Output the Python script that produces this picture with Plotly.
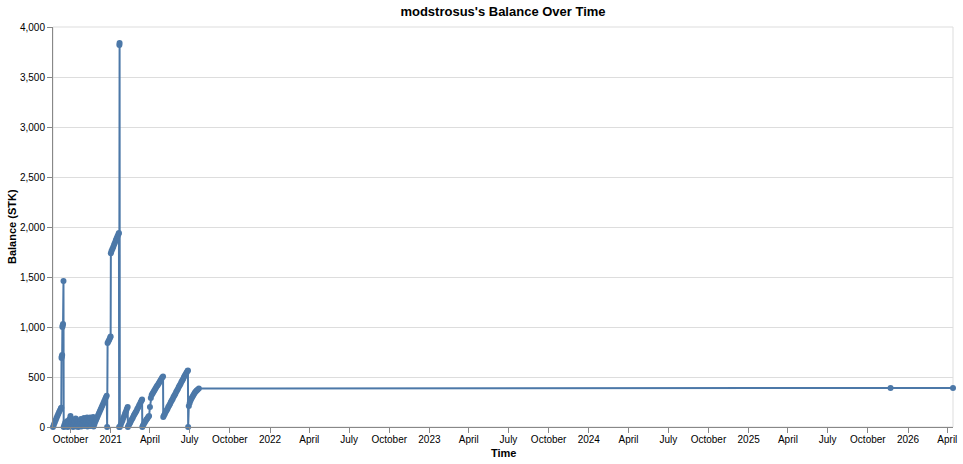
import plotly.graph_objects as go

# ---- data ----
dates = [
    "2020-08-22", "2020-08-24", "2020-08-26", "2020-08-28", "2020-08-30",
    "2020-09-01", "2020-09-03", "2020-09-05", "2020-09-07", "2020-09-09",
    "2020-09-10", "2020-09-10 12:00", "2020-09-11", "2020-09-12",
    "2020-09-12 12:00", "2020-09-13", "2020-09-14", "2020-09-15",
    "2020-09-15 12:00",
    "2020-09-17", "2020-09-19", "2020-09-20", "2020-09-22", "2020-09-24",
    "2020-09-25", "2020-09-27", "2020-09-29", "2020-10-01", "2020-10-02",
    "2020-10-04", "2020-10-06", "2020-10-07", "2020-10-09", "2020-10-11",
    "2020-10-13", "2020-10-14", "2020-10-16", "2020-10-18", "2020-10-19",
    "2020-10-21", "2020-10-23", "2020-10-25", "2020-10-26", "2020-10-28",
    "2020-10-30", "2020-11-01", "2020-11-02", "2020-11-04", "2020-11-06",
    "2020-11-08", "2020-11-09", "2020-11-11", "2020-11-13", "2020-11-15",
    "2020-11-16", "2020-11-18", "2020-11-20", "2020-11-22", "2020-11-23",
    "2020-11-25",
    "2020-11-27", "2020-11-29", "2020-12-01", "2020-12-03", "2020-12-05",
    "2020-12-07", "2020-12-09", "2020-12-11", "2020-12-13", "2020-12-15",
    "2020-12-17", "2020-12-19", "2020-12-21", "2020-12-23", "2020-12-24",
    "2020-12-25", "2020-12-27", "2020-12-29", "2020-12-31", "2021-01-01",
    "2021-01-01 12:00", "2021-01-03", "2021-01-05", "2021-01-07",
    "2021-01-09", "2021-01-11", "2021-01-13", "2021-01-15", "2021-01-17",
    "2021-01-19", "2021-01-20", "2021-01-20 12:00", "2021-01-21",
    "2021-01-21 12:00", "2021-01-22",
    "2021-01-24", "2021-01-26", "2021-01-28", "2021-01-30", "2021-02-01",
    "2021-02-03", "2021-02-05", "2021-02-07", "2021-02-09",
    "2021-02-09 12:00",
    "2021-02-11", "2021-02-13", "2021-02-15", "2021-02-17", "2021-02-19",
    "2021-02-21", "2021-02-23", "2021-02-25", "2021-02-27", "2021-03-01",
    "2021-03-03", "2021-03-05", "2021-03-07", "2021-03-09", "2021-03-11",
    "2021-03-13", "2021-03-14", "2021-03-14 12:00",
    "2021-03-16", "2021-03-18", "2021-03-20", "2021-03-22", "2021-03-24",
    "2021-03-26", "2021-03-28", "2021-03-30", "2021-04-01", "2021-04-03",
    "2021-04-05", "2021-04-07", "2021-04-09", "2021-04-11", "2021-04-13",
    "2021-04-15", "2021-04-17", "2021-04-19", "2021-04-21", "2021-04-23",
    "2021-04-25", "2021-04-27", "2021-04-29", "2021-05-01",
    "2021-05-01 12:00",
    "2021-05-03", "2021-05-05", "2021-05-07", "2021-05-09", "2021-05-11",
    "2021-05-13", "2021-05-15", "2021-05-17", "2021-05-19", "2021-05-21",
    "2021-05-23", "2021-05-25", "2021-05-27", "2021-05-29", "2021-05-31",
    "2021-06-02", "2021-06-04", "2021-06-06", "2021-06-08", "2021-06-10",
    "2021-06-12", "2021-06-14", "2021-06-16", "2021-06-18", "2021-06-20",
    "2021-06-22", "2021-06-24", "2021-06-26", "2021-06-27",
    "2021-06-27 12:00",
    "2021-06-29", "2021-07-01", "2021-07-03", "2021-07-05", "2021-07-07",
    "2021-07-09", "2021-07-11", "2021-07-13", "2021-07-15", "2021-07-17",
    "2021-07-19", "2021-07-22",
    "2025-11-22", "2026-04-14",
]

balances = [
    0, 22, 45, 68, 90,
    110, 130, 150, 168, 185,
    192, 690, 705, 720,
    1000, 1015, 1030, 1460,
    0,
    20, 45, 5, 35, 60,
    0, 40, 80, 110, 10,
    45, 75, 0, 30, 60,
    85, 5, 35, 60, 0,
    30, 55, 80, 5, 35,
    65, 90, 10, 40, 70,
    95, 5, 35, 65, 95,
    10, 40, 70, 100, 5,
    30,
    55, 75, 95, 115, 135,
    155, 175, 195, 215, 235,
    255, 275, 295, 312, 0,
    840, 858, 876, 895, 905,
    1737, 1760, 1780, 1800,
    1825, 1845, 1870, 1890, 1910,
    1930, 1940, 0, 3820,
    3840, 0,
    20, 45, 65, 90, 110,
    135, 155, 180, 200,
    0,
    15, 30, 45, 65, 80,
    95, 115, 130, 145, 160,
    180, 195, 215, 230, 250,
    265, 275, 0,
    15, 30, 45, 60, 75,
    85, 100, 110, 200, 290,
    320, 335, 350, 365, 380,
    395, 410, 420, 435, 450,
    465, 480, 495, 505,
    100,
    115, 130, 150, 165, 180,
    200, 215, 230, 250, 265,
    280, 300, 315, 330, 350,
    365, 380, 400, 415, 430,
    450, 465, 480, 500, 515,
    530, 545, 560, 565,
    0,
    210, 240, 265, 285, 300,
    315, 330, 345, 355, 365,
    373, 385,
    390, 391,
]

tick_dates = [
    "2020-10-01", "2021-01-01", "2021-04-01", "2021-07-01", "2021-10-01",
    "2022-01-01", "2022-04-01", "2022-07-01", "2022-10-01",
    "2023-01-01", "2023-04-01", "2023-07-01", "2023-10-01",
    "2024-01-01", "2024-04-01", "2024-07-01", "2024-10-01",
    "2025-01-01", "2025-04-01", "2025-07-01", "2025-10-01",
    "2026-01-01", "2026-04-01",
]
tick_labels = [
    "October", "2021", "April", "July", "October",
    "2022", "April", "July", "October",
    "2023", "April", "July", "October",
    "2024", "April", "July", "October",
    "2025", "April", "July", "October",
    "2026", "April",
]
y_ticks = [0, 500, 1000, 1500, 2000, 2500, 3000, 3500, 4000]

FONT = "Liberation Sans, Arial, Helvetica, sans-serif"
BLUE = "#4c78a8"

fig = go.Figure(
    go.Scatter(
        x=dates,
        y=balances,
        mode="lines+markers",
        line=dict(color=BLUE, width=2),
        marker=dict(color=BLUE, size=6),
        cliponaxis=False,
        showlegend=False,
    )
)

fig.update_layout(
    width=963,
    height=464,
    margin=dict(l=53, r=10, t=27, b=37, autoexpand=False),
    paper_bgcolor="white",
    plot_bgcolor="white",
    font=dict(family=FONT, size=10, color="#000"),
    title=dict(
        text="<b>modstrosus's Balance Over Time</b>",
        font=dict(family=FONT, size=13, color="#000"),
        x=0.5,
        xref="paper",
        xanchor="center",
        y=1 - 11 / 464,
        yref="container",
        yanchor="middle",
    ),
    shapes=[
        dict(
            type="rect", xref="paper", yref="paper", x0=0, x1=1, y0=0, y1=1,
            line=dict(color="#dddddd", width=1), layer="below",
        )
    ],
    annotations=[
        dict(
            text="<b>Balance (STK)</b>", xref="paper", yref="paper",
            x=(12 - 53) / 900, y=0.5, textangle=-90, showarrow=False,
            xanchor="center", yanchor="middle",
            font=dict(family=FONT, size=11, color="#000"),
        ),
        dict(
            text="<b>Time</b>", xref="paper", yref="paper",
            x=0.5, y=(427 - 453) / 400, showarrow=False,
            xanchor="center", yanchor="middle",
            font=dict(family=FONT, size=11, color="#000"),
        ),
    ],
)

fig.update_xaxes(
    type="date",
    range=[dates[0], dates[-1]],
    tickvals=tick_dates,
    ticktext=tick_labels,
    automargin=False,
    showgrid=False,
    zeroline=False,
    showline=True,
    linecolor="#888888",
    linewidth=1,
    ticks="outside",
    ticklen=5,
    tickcolor="#888888",
    ticklabelstandoff=-2,
    tickfont=dict(family=FONT, size=10, color="#000"),
)
fig.update_yaxes(
    range=[0, 4000],
    tickvals=y_ticks,
    tickformat=",",
    automargin=False,
    showgrid=True,
    gridcolor="#dddddd",
    gridwidth=1,
    zeroline=False,
    showline=True,
    linecolor="#888888",
    linewidth=1,
    ticks="outside",
    ticklen=5,
    tickcolor="#888888",
    tickfont=dict(family=FONT, size=10, color="#000"),
)

fig.write_html(
    "out.html",
    config={"displayModeBar": False},
    post_script="document.body.style.margin='0';document.body.style.overflow='hidden';",
)
